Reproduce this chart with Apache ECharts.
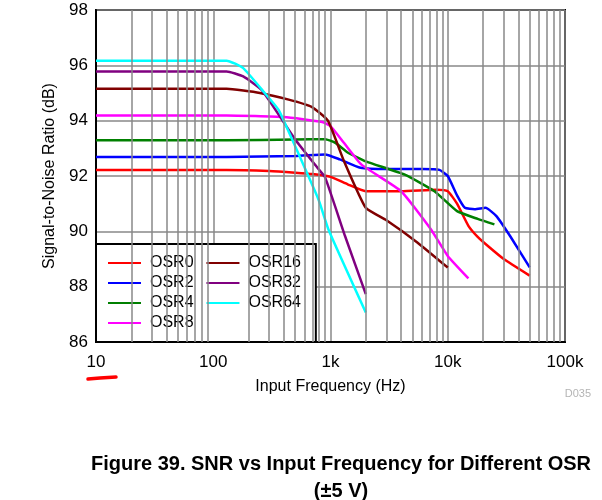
<!DOCTYPE html>
<html>
<head>
<meta charset="utf-8">
<script src="https://cdn.jsdelivr.net/npm/echarts@6/dist/echarts.min.js"></script>
<style>
  html, body { margin: 0; padding: 0; background: #fff; }
  #main { width: 602px; height: 500px; }
</style>
</head>
<body>
<div id="main"></div>
<script>
// SNR (dB) vs input frequency (Hz), one [freq, snr] list per OSR setting
var seriesNames = ['OSR0', 'OSR2', 'OSR4', 'OSR8', 'OSR16', 'OSR32', 'OSR64'];
var seriesColors = ['#ff0000', '#0000ff', '#008000', '#ff00ff', '#800000', '#800080', '#00ffff'];

var osr0 = [[10, 92.22], [130, 92.22], [300, 92.18], [500, 92.12], [700, 92.07], [1000, 91.97], [1400, 91.7],
    [2000, 91.45], [4000, 91.45], [8000, 91.5], [10000, 91.45], [12000, 91.0], [15000, 90.2], [18000, 89.8],
    [22000, 89.47], [30000, 89.0], [50000, 88.4]];
var osr2 = [[10, 92.69], [130, 92.69], [500, 92.72], [900, 92.78], [1200, 92.6], [1800, 92.3], [3000, 92.25],
    [6000, 92.25], [8500, 92.22], [10000, 92.0], [12000, 91.3], [14000, 90.85], [17000, 90.8], [21000, 90.85],
    [26000, 90.55], [34000, 89.83], [50000, 88.7]];
var osr4 = [[10, 93.29], [130, 93.29], [500, 93.32], [900, 93.33], [1100, 93.2], [1400, 92.85], [2000, 92.53],
    [4300, 92.05], [7700, 91.45], [12000, 90.73], [18000, 90.45], [25000, 90.25]];
var osr8 = [[10, 94.19], [130, 94.19], [400, 94.13], [850, 93.95], [1000, 93.8], [1300, 93.2], [1840, 92.41],
    [4000, 91.45], [7200, 90.07], [10000, 89.11], [15000, 88.3]];
var osr16 = [[10, 95.15], [130, 95.15], [250, 95.0], [440, 94.76], [690, 94.5], [950, 94.0], [1300, 92.55],
    [2000, 90.85], [3000, 90.4], [5500, 89.6], [10000, 88.69]];
var osr32 = [[10, 95.78], [130, 95.78], [180, 95.6], [260, 95.1], [500, 93.32], [790, 92.25], [900, 91.95],
    [1330, 89.83], [2000, 87.73]];
var osr64 = [[10, 96.17], [130, 96.17], [180, 95.9], [260, 95.12], [360, 94.4], [440, 93.6], [790, 91.15],
    [960, 90.07], [2000, 87.07]];

var xTicks = [10, 100, 1000, 10000, 100000];
var xTickLabels = ['10', '100', '1k', '10k', '100k'];

var fontFam = "'Liberation Sans', Arial, sans-serif";

var chart = echarts.init(document.getElementById('main'));

// minor log grid (2..9 in every decade)
var minorLines = [];
for (var d = 0; d < xTicks.length - 1; d++) {
    for (var k = 2; k <= 9; k++) {
        minorLines.push({xAxis: xTicks[d] * k});
    }
}

var allData = [osr0, osr2, osr4, osr8, osr16, osr32, osr64];
var series = [];
for (var i = 0; i < seriesNames.length; i++) {
    series.push({
        name: seriesNames[i],
        type: 'line',
        data: allData[i],
        symbol: 'none',
        smooth: 0.15,
        z: 3,
        lineStyle: {color: seriesColors[i], width: 2.5},
        itemStyle: {color: seriesColors[i]}
    });
}
series.push({
    name: 'grid',
    type: 'line',
    data: [],
    silent: true,
    z: 1,
    markLine: {
        silent: true,
        symbol: 'none',
        label: {show: false},
        lineStyle: {color: '#888', width: 1.5, type: 'solid'},
        data: minorLines,
        animation: false
    }
});

var option = {
    animation: false,
    grid: {
        left: 96, right: 37, top: 10, bottom: 158,
        show: true, borderColor: '#000', borderWidth: 2
    },
    legend: {
        data: seriesNames,
        orient: 'vertical',
        left: 96, top: 244,
        height: 80,
        padding: [11, 6, 11, 12],
        itemGap: 4,
        itemWidth: 33,
        itemHeight: 2,
        icon: 'rect',
        backgroundColor: '#fff',
        borderColor: '#000',
        borderWidth: 2,
        formatter: function (name) {
            return '{n|' + name + '\u00a0\u00a0}';
        },
        textStyle: {
            fontFamily: fontFam, fontSize: 16, color: '#000',
            rich: {n: {fontFamily: fontFam, fontSize: 16, color: '#000', padding: [0, 0, 0, 4]}}
        }
    },
    xAxis: {
        type: 'log',
        logBase: 10,
        min: 10,
        max: 100000,
        name: 'Input Frequency (Hz)',
        nameLocation: 'middle',
        nameGap: 37,
        nameTextStyle: {fontFamily: fontFam, fontSize: 16, color: '#000'},
        axisLine: {lineStyle: {color: '#000', width: 2}},
        axisTick: {show: false},
        axisLabel: {
            fontFamily: fontFam, fontSize: 17, color: '#000', margin: 12,
            formatter: function (v) {
                var idx = xTicks.indexOf(Math.round(v));
                return idx >= 0 ? xTickLabels[idx] : '';
            }
        },
        splitLine: {show: true, lineStyle: {color: '#888', width: 1.5}}
    },
    yAxis: {
        type: 'value',
        min: 86,
        max: 98,
        interval: 2,
        name: 'Signal-to-Noise Ratio (dB)',
        nameLocation: 'middle',
        nameGap: 38,
        nameTextStyle: {fontFamily: fontFam, fontSize: 16, color: '#000'},
        axisLine: {show: true, lineStyle: {color: '#000', width: 2}},
        axisTick: {show: false},
        axisLabel: {fontFamily: fontFam, fontSize: 17, color: '#000', margin: 8},
        splitLine: {show: true, lineStyle: {color: '#888', width: 1.5}}
    },
    graphic: [
        {
            type: 'polyline', silent: true,
            shape: {points: [[88, 379], [100, 378], [116, 377]]},
            style: {stroke: '#ff0000', lineWidth: 3.5, lineCap: 'round', fill: null}
        },
        {
            type: 'text', x: 591, y: 388, silent: true,
            style: {text: 'D035', fontFamily: fontFam, fontSize: 11, fill: '#b4b4b4', textAlign: 'right'}
        },
        {
            type: 'text', x: 341, y: 454, silent: true,
            style: {
                text: 'Figure 39. SNR vs Input Frequency for Different OSR',
                fontFamily: fontFam, fontSize: 20, fontWeight: 'bold', fill: '#000', textAlign: 'center'
            }
        },
        {
            type: 'text', x: 341, y: 481, silent: true,
            style: {text: '(±5 V)', fontFamily: fontFam, fontSize: 20, fontWeight: 'bold', fill: '#000', textAlign: 'center'}
        }
    ],
    series: series
};

chart.setOption(option);
</script>
</body>
</html>
